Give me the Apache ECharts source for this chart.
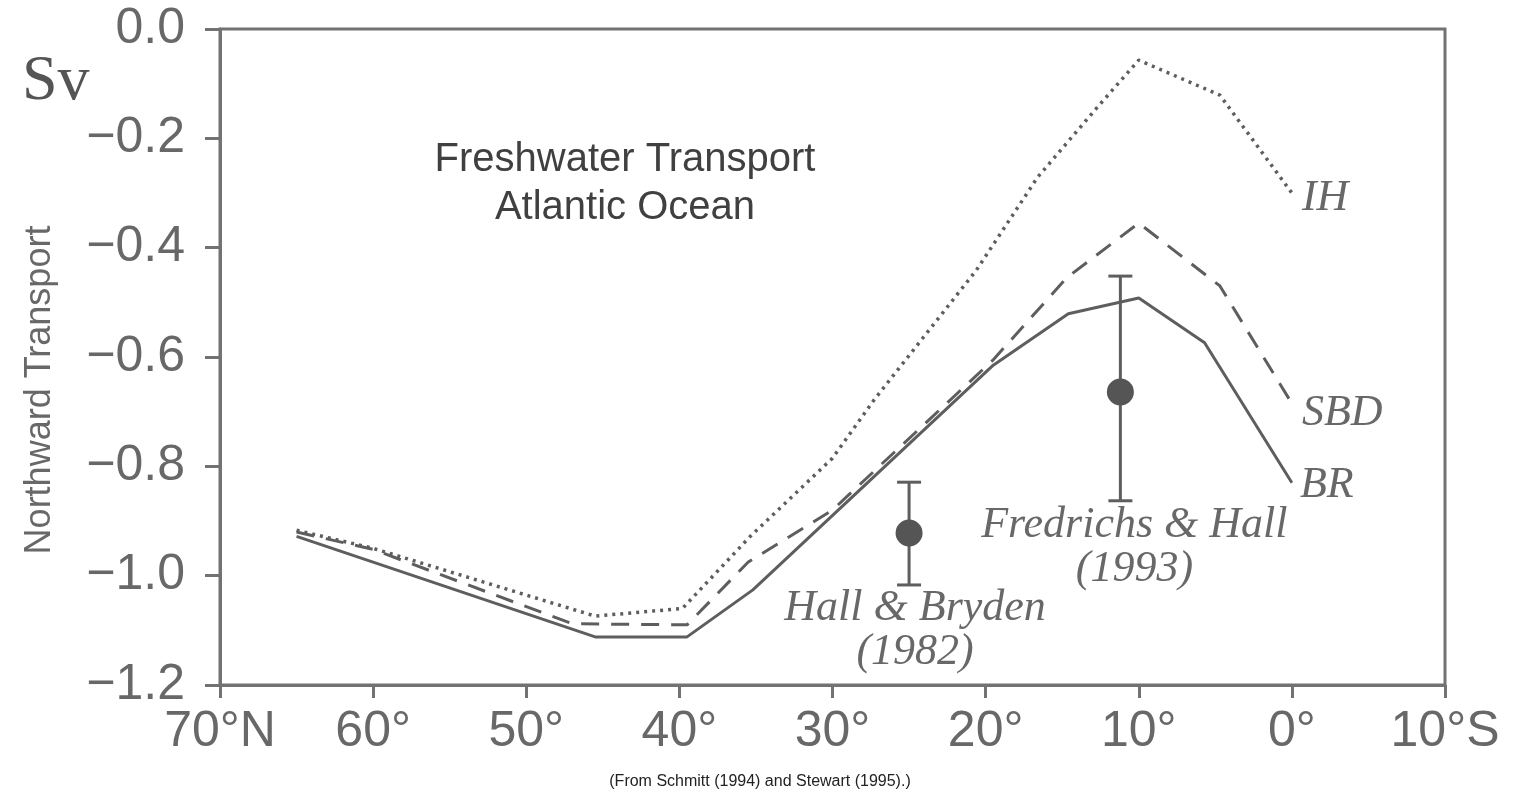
<!DOCTYPE html>
<html>
<head>
<meta charset="utf-8">
<script src="https://cdn.jsdelivr.net/npm/echarts@6/dist/echarts.min.js"></script>
<style>
html,body{margin:0;padding:0;background:#fff;}
#chart{width:1513px;height:799px;}
</style>
</head>
<body>
<div id="chart"></div>
<script>
// ---- data (latitude in degrees, north positive; transport in Sv) ----
const latIH  = [65, 60, 45.5, 39.8, 35.4, 30, 27.3, 20.6, 16.6, 12.7, 10, 4.7, 0];
const valIH  = [-0.917, -0.95, -1.074, -1.06, -0.929, -0.785, -0.679, -0.441, -0.271, -0.143, -0.057, -0.121, -0.30];
const latSBD = [65, 60, 47, 39.5, 35.5, 30, 19.5, 14.7, 10, 4.7, 0];
const valSBD = [-0.92, -0.952, -1.088, -1.09, -0.975, -0.88, -0.605, -0.455, -0.355, -0.47, -0.685];
const latBR  = [65, 45.5, 39.5, 35.2, 19.5, 14.6, 10, 5.7, 0];
const valBR  = [-0.928, -1.112, -1.112, -1.026, -0.615, -0.521, -0.492, -0.574, -0.83];
const seriesNames = ['IH', 'SBD', 'BR'];
const obsLat  = [25, 11.2];
const obsVal  = [-0.922, -0.664];
const obsLow  = [-1.017, -0.863];
const obsHigh = [-0.829, -0.452];
const obsLabels = ['Hall & Bryden\n(1982)', 'Fredrichs & Hall\n(1993)'];
const xTickValues = [70, 60, 50, 40, 30, 20, 10, 0, -10];
const xTickLabels = ['70°N', '60°', '50°', '40°', '30°', '20°', '10°', '0°', '10°S'];
const titleText = 'Freshwater Transport\nAtlantic Ocean';
const yAxisTitle = 'Northward Transport';
const unitText = 'Sv';
const sourceText = '(From Schmitt (1994) and Stewart (1995).)';

// ---- styles ----
const lineColor = '#5e5e5e';
const axisColor = '#727272';
const labelColor = '#686868';
const sans = "'Liberation Sans', Arial, sans-serif";
const serif = "'Liberation Serif', 'Times New Roman', serif";
const obsLabelOffsets = [[6, 97], [14, 155]];

function pairs(xs, ys) { return xs.map((x, i) => [x, ys[i]]); }

const chart = echarts.init(document.getElementById('chart'));
const endLabelStyle = (off) => ({
  show: true,
  formatter: '{a}',
  distance: 0,
  align: 'left',
  verticalAlign: 'middle',
  offset: off,
  fontFamily: serif,
  fontStyle: 'italic',
  fontSize: 44,
  color: labelColor
});

const option = {
  animation: false,
  backgroundColor: '#fff',
  title: {
    text: titleText,
    left: 620,
    top: 131,
    textAlign: 'center',
    textStyle: { fontFamily: sans, fontSize: 40, fontWeight: 'normal', color: '#404040', lineHeight: 48 }
  },
  grid: {
    left: 220, top: 29, width: 1225, height: 656,
    show: true, borderColor: axisColor, borderWidth: 3, backgroundColor: 'transparent'
  },
  xAxis: {
    type: 'value', min: -10, max: 70, interval: 10, inverse: true,
    axisLine: { show: true, onZero: false, lineStyle: { color: axisColor, width: 3 } },
    axisTick: { show: true, inside: false, length: 13, lineStyle: { color: axisColor, width: 3 } },
    splitLine: { show: false },
    axisLabel: {
      margin: 22, fontFamily: sans, fontSize: 50, color: labelColor,
      formatter: v => { const i = xTickValues.indexOf(Math.round(v)); return i >= 0 ? xTickLabels[i] : ''; }
    }
  },
  yAxis: {
    type: 'value', min: -1.2, max: 0, interval: 0.2,
    axisLine: { show: true, onZero: false, lineStyle: { color: axisColor, width: 3 } },
    axisTick: { show: true, inside: false, length: 15, lineStyle: { color: axisColor, width: 3 } },
    splitLine: { show: false },
    axisLabel: {
      margin: 35, fontFamily: sans, fontSize: 50, color: labelColor,
      formatter: v => (Math.abs(v) < 1e-9 ? '0.0' : '\u2212' + Math.abs(v).toFixed(1))
    }
  },
  graphic: [
    { type: 'text', x: 22, y: 50, style: { text: unitText, font: '64px ' + serif, fill: '#555', verticalAlign: 'top' } },
    { type: 'text', x: 40, y: 390, rotation: Math.PI / 2,
      style: { text: yAxisTitle, font: '36px ' + sans, fill: labelColor, align: 'center', verticalAlign: 'middle' } },
    { type: 'text', x: 760, y: 782,
      style: { text: sourceText, font: '16px ' + sans, fill: '#222', align: 'center', verticalAlign: 'middle' } }
  ],
  series: [
    {
      name: seriesNames[0], type: 'line', data: pairs(latIH, valIH), showSymbol: false, symbol: 'none',
      lineStyle: { color: lineColor, width: 3.5, type: [3, 5] },
      endLabel: endLabelStyle([10, 5])
    },
    {
      name: seriesNames[1], type: 'line', data: pairs(latSBD, valSBD), showSymbol: false, symbol: 'none',
      lineStyle: { color: lineColor, width: 3, type: [18, 12] },
      endLabel: endLabelStyle([10, 10])
    },
    {
      name: seriesNames[2], type: 'line', data: pairs(latBR, valBR), showSymbol: false, symbol: 'none',
      lineStyle: { color: lineColor, width: 3, type: 'solid' },
      endLabel: endLabelStyle([8, 3])
    },
    {
      name: 'errorbars', type: 'custom',
      data: obsLat.map((x, i) => [x, obsLow[i], obsHigh[i]]),
      renderItem: function (params, api) {
        const x = api.value(0);
        const pLo = api.coord([x, api.value(1)]);
        const pHi = api.coord([x, api.value(2)]);
        const hw = 12;
        const st = { stroke: lineColor, lineWidth: 3 };
        return {
          type: 'group',
          children: [
            { type: 'line', shape: { x1: pLo[0], y1: pLo[1], x2: pHi[0], y2: pHi[1] }, style: st },
            { type: 'line', shape: { x1: pLo[0] - hw, y1: pLo[1], x2: pLo[0] + hw, y2: pLo[1] }, style: st },
            { type: 'line', shape: { x1: pHi[0] - hw, y1: pHi[1], x2: pHi[0] + hw, y2: pHi[1] }, style: st }
          ]
        };
      }
    },
    {
      name: 'observations', type: 'scatter', symbol: 'circle', symbolSize: 27,
      itemStyle: { color: '#555555', opacity: 1 },
      data: obsLat.map((x, i) => ({
        value: [x, obsVal[i]],
        label: {
          show: true, position: 'inside', formatter: obsLabels[i], offset: obsLabelOffsets[i],
          fontFamily: serif, fontStyle: 'italic', fontSize: 44, lineHeight: 44,
          color: labelColor, align: 'center', verticalAlign: 'middle'
        }
      }))
    }
  ]
};
chart.setOption(option);
</script>
</body>
</html>
